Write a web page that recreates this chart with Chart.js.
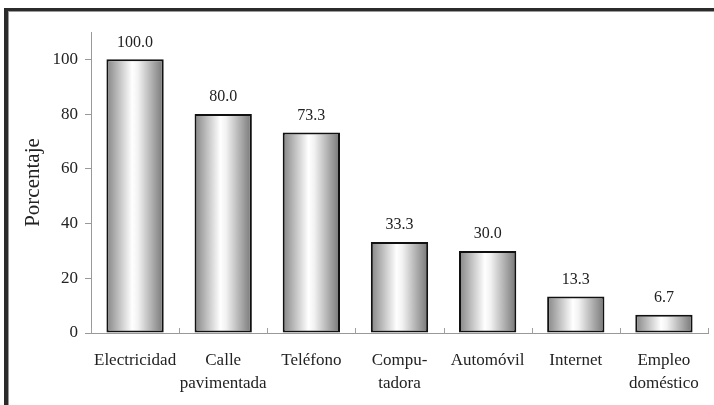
<!DOCTYPE html>
<html>
<head>
<meta charset="utf-8">
<script src="https://cdn.jsdelivr.net/npm/chart.js@4/dist/chart.umd.min.js"></script>
<style>
  html, body { margin: 0; padding: 0; background: #fff; }
  #wrap { position: relative; width: 714px; height: 405px; overflow: hidden; }
  #frame {
    position: absolute; left: 4px; top: 8px; width: 760px; height: 460px;
    border-left: 4px solid #2b2b2b; border-top: 3px solid #2b2b2b;
    box-shadow: inset 1px 1px 0 #9a9a9a;
    pointer-events: none;
  }
  canvas { position: absolute; left: 0; top: 0; }
</style>
</head>
<body>
<div id="wrap">
  <canvas id="chart" width="714" height="405"></canvas>
  <div id="frame"></div>
</div>
<script>
const categories = ['Electricidad', ['Calle', 'pavimentada'], 'Teléfono', ['Compu-', 'tadora'], 'Automóvil', 'Internet', ['Empleo', 'doméstico']];
const values = [100.0, 80.0, 73.3, 33.3, 30.0, 13.3, 6.7];
const yTicks = [0, 20, 40, 60, 80, 100];
const yTitle = 'Porcentaje';

const serif = "'Liberation Serif', 'Times New Roman', serif";

// cylinder shading for each bar, built from the bar's own position
const shadeBars = {
    id: 'shadeBars',
    beforeDatasetsDraw(chart) {
        const ctx = chart.ctx;
        chart.getDatasetMeta(0).data.forEach(bar => {
            const left = bar.x - bar.width / 2;
            const g = ctx.createLinearGradient(left, 0, left + bar.width, 0);
            g.addColorStop(0, '#858585');
            g.addColorStop(0.45, '#ffffff');
            g.addColorStop(0.55, '#f2f2f2');
            g.addColorStop(1, '#767676');
            // options are shared between bars, so give each its own copy
            bar.options = Object.assign({}, bar.options, { backgroundColor: g });
        });
    }
};

const valueLabels = {
    id: 'valueLabels',
    afterDatasetsDraw(chart) {
        const ctx = chart.ctx;
        ctx.save();
        ctx.font = '16px ' + serif;
        ctx.fillStyle = '#222';
        ctx.textAlign = 'center';
        ctx.textBaseline = 'bottom';
        chart.getDatasetMeta(0).data.forEach((bar, i) => {
            ctx.fillText(values[i].toFixed(1), bar.x, bar.y - 9);
        });
        ctx.restore();
    }
};

// small ticks rising from the x axis between categories
const catTicks = {
    id: 'catTicks',
    afterDraw(chart) {
        const ctx = chart.ctx;
        const x = chart.scales.x;
        ctx.save();
        ctx.strokeStyle = '#a0a0a0';
        ctx.lineWidth = 1;
        for (let i = 0; i <= categories.length; i++) {
            const px = Math.round(x.getPixelForValue(i - 0.5)) + 0.5;
            ctx.beginPath();
            ctx.moveTo(px, x.top);
            ctx.lineTo(px, x.top - 5);
            ctx.stroke();
        }
        ctx.restore();
    }
};

new Chart(document.getElementById('chart'), {
    type: 'bar',
    data: {
        labels: categories,
        datasets: [{
            data: values,
            backgroundColor: '#ccc',
            borderColor: '#111',
            borderWidth: 2,
            borderSkipped: false,
            barPercentage: 0.65,
            categoryPercentage: 1
        }]
    },
    options: {
        responsive: false,
        animation: false,
        events: [],
        layout: { padding: { top: 32, right: 6, left: 0, bottom: 0 } },
        plugins: {
            legend: { display: false },
            tooltip: { enabled: false }
        },
        scales: {
            x: {
                grid: { display: false },
                border: { color: '#999', width: 1 },
                ticks: {
                    color: '#222',
                    font: { family: serif, size: 17, lineHeight: 1.35 },
                    padding: 8,
                    maxRotation: 0,
                    autoSkip: false
                },
                afterFit(scale) { scale.height = 72; }
            },
            y: {
                min: 0,
                max: 110,
                afterBuildTicks(scale) {
                    scale.ticks = yTicks.map(v => ({ value: v }));
                },
                grid: { drawOnChartArea: false, tickLength: 6, color: '#999' },
                border: { color: '#999', width: 1 },
                ticks: {
                    color: '#222',
                    font: { family: serif, size: 17 },
                    padding: 7
                },
                title: {
                    display: true,
                    text: yTitle,
                    color: '#222',
                    font: { family: serif, size: 21 },
                    padding: { top: 21, bottom: 0 }
                },
                afterFit(scale) { scale.width = 91; }
            }
        }
    },
    plugins: [shadeBars, valueLabels, catTicks]
});
</script>
</body>
</html>
